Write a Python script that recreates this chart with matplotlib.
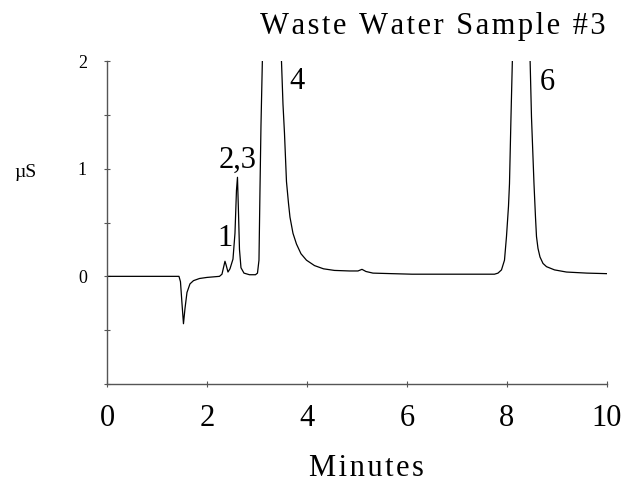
import matplotlib
matplotlib.use('Agg')
import matplotlib.pyplot as plt

# Хроматограмма: время (мин) и сигнал (мкСм)
minutes = [0.0, 0.5, 1.0, 1.44, 1.47, 1.50, 1.53, 1.56, 1.60, 1.66, 1.73, 1.85,
           2.00, 2.25, 2.30, 2.34, 2.36, 2.38, 2.42, 2.46, 2.52, 2.56, 2.59,
           2.61, 2.63, 2.65, 2.68, 2.74, 2.85, 2.97, 3.01, 3.04, 3.06, 3.08,
           3.11, 3.20, 3.30, 3.45, 3.49, 3.52, 3.55, 3.59, 3.63, 3.66, 3.72,
           3.79, 3.88, 3.99, 4.15, 4.33, 4.55, 4.85, 5.02, 5.10, 5.18, 5.32,
           5.70, 6.10, 7.00, 7.75, 7.82, 7.89, 7.95, 7.99, 8.03, 8.05, 8.08,
           8.11, 8.20, 8.28, 8.38, 8.46, 8.49, 8.54, 8.57, 8.59, 8.62, 8.66,
           8.72, 8.79, 8.95, 9.19, 9.60, 10.0]
signal = [0.0, 0.0, 0.0, 0.0, -0.05, -0.25, -0.44, -0.30, -0.15, -0.07, -0.04, -0.02,
          -0.01, 0.0, 0.02, 0.10, 0.14, 0.11, 0.04, 0.07, 0.16, 0.40, 0.80,
          0.92, 0.60, 0.25, 0.08, 0.03, 0.015, 0.015, 0.03, 0.15, 0.80, 1.40,
          2.05, 5.0, 6.0, 3.0, 2.0, 1.60, 1.33, 0.88, 0.68, 0.55, 0.40,
          0.30, 0.21, 0.15, 0.10, 0.07, 0.055, 0.05, 0.05, 0.065, 0.045, 0.03,
          0.025, 0.02, 0.02, 0.02, 0.03, 0.06, 0.15, 0.37, 0.65, 0.86, 1.48,
          2.05, 5.0, 7.0, 5.0, 2.05, 1.48, 0.86, 0.55, 0.37, 0.26, 0.18,
          0.12, 0.09, 0.06, 0.04, 0.03, 0.025]

# Подписи пиков
peak_labels = ['1', '2,3', '4', '6']
peak_x = [2.36, 2.61, 3.81, 8.81]
peak_y = [0.35, 1.08, 1.81, 1.80]

plt.rcParams['font.family'] = ['Liberation Serif', 'DejaVu Serif']


def spaced(s):
    # разрядка букв через hair space
    return '\u200a'.join(s)


fig = plt.figure(figsize=(6.23, 4.82), dpi=100)
ax = fig.add_axes([0.1717, 0.2033, 0.8026, 0.6701])
ax.plot(minutes, signal, color='black', linewidth=0.9)

for lab, px, py in zip(peak_labels, peak_x, peak_y):
    ax.text(px, py, lab, fontsize=22, ha='center', va='center')

ax.set_xlim(0, 10)
ax.set_ylim(-1, 2)
ax.set_xticks([0, 2, 4, 6, 8, 10])
ax.set_yticks([-1, -0.5, 0, 0.5, 1, 1.5, 2])
ax.set_yticklabels(['', '', '0', '', '1', '', '2'])

for side in ['top', 'right']:
    ax.spines[side].set_visible(False)
for side in ['left', 'bottom']:
    ax.spines[side].set_color('#555555')
    ax.spines[side].set_linewidth(1.0)

ax.tick_params(axis='x', direction='inout', length=5, color='#555555',
               labelsize=22, pad=12)
ax.tick_params(axis='y', direction='inout', length=5, color='#555555',
               labelsize=13, pad=12)

fig.text(0.041, 1 - 172 / 482, 'µS', fontsize=14, ha='center', va='center')
fig.text(0.972, 1 - 34 / 482, spaced('Waste Water Sample #3'), fontsize=22,
         ha='right', va='baseline')
fig.text(366 / 623, 1 - 476 / 482, spaced('Minutes'), fontsize=22,
         ha='center', va='baseline')

fig.savefig('out.png', dpi=100)
